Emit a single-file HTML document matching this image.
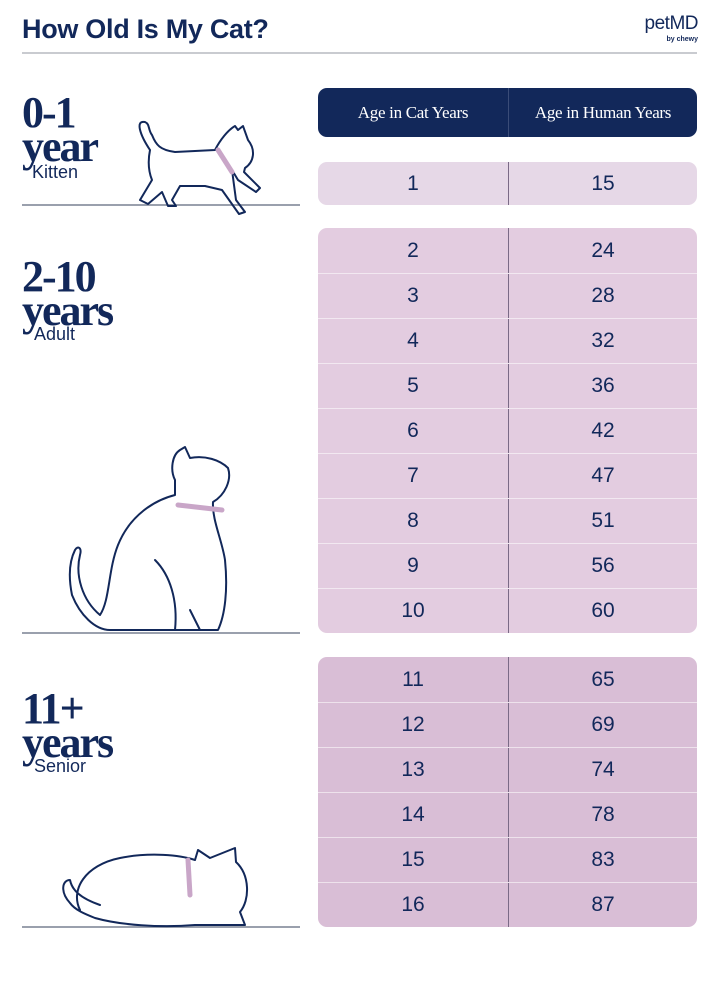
<!DOCTYPE html>
<html><head><style>
body{margin:0;width:720px;height:984px;background:#fff;position:relative;font-family:"Liberation Sans",sans-serif;color:#12285a;overflow:hidden}
.a{position:absolute}
.t{left:22px;top:14px;font-size:27px;font-weight:bold;letter-spacing:-0.3px}
.blk{position:absolute;left:318px;width:379px;border-radius:9px;overflow:hidden}
.row{box-sizing:border-box;height:45px;display:flex;border-top:1px solid rgba(255,255,255,.55);font-size:21px;line-height:44px}
.row:first-child{border-top:none;line-height:45px}
.row div{flex:0 0 190px;text-align:center}
.row div+div{flex:1;border-left:1.5px solid #7a6a86}
.big{font-family:"Liberation Serif",serif;font-weight:bold;font-size:44px;line-height:34px;letter-spacing:-2px}
.sub{font-size:18px}
.gl{position:absolute;left:22px;width:278px;height:2px;background:#9aa0ad}
</style></head><body>
<div class="a t">How Old Is My Cat?</div>
<div class="a" style="right:22px;top:13px;font-size:19px;letter-spacing:-0.5px">petMD</div>
<div class="a" style="right:22px;top:36px;font-size:7px;font-weight:bold">by chewy</div>
<div class="a" style="left:22px;top:52px;width:675px;height:2px;background:#c9cbd0"></div>

<div class="blk" style="top:88px;height:49px;background:#12285a;color:#fff;display:flex;font-family:'Liberation Serif',serif;font-size:17px;line-height:49px;letter-spacing:-0.3px">
<div style="flex:0 0 190px;text-align:center">Age in Cat Years</div><div style="flex:1;text-align:center;border-left:1px solid #3a4c78">Age in Human Years</div></div>

<div class="blk" style="top:162px;background:#e6d8e7">
<div class="row" style="height:43px;line-height:43px"><div>1</div><div>15</div></div></div>

<div class="blk" style="top:228px;background:#e3cce0">
<div class="row"><div>2</div><div>24</div></div>
<div class="row"><div>3</div><div>28</div></div>
<div class="row"><div>4</div><div>32</div></div>
<div class="row"><div>5</div><div>36</div></div>
<div class="row"><div>6</div><div>42</div></div>
<div class="row"><div>7</div><div>47</div></div>
<div class="row"><div>8</div><div>51</div></div>
<div class="row"><div>9</div><div>56</div></div>
<div class="row"><div>10</div><div>60</div></div></div>

<div class="blk" style="top:657px;background:#d9bed6">
<div class="row"><div>11</div><div>65</div></div>
<div class="row"><div>12</div><div>69</div></div>
<div class="row"><div>13</div><div>74</div></div>
<div class="row"><div>14</div><div>78</div></div>
<div class="row"><div>15</div><div>83</div></div>
<div class="row"><div>16</div><div>87</div></div></div>

<div class="a big" style="left:22px;top:96px">0-1<br>year</div>
<div class="a sub" style="left:32px;top:162px">Kitten</div>
<div class="a big" style="left:22px;top:260px">2-10<br>years</div>
<div class="a sub" style="left:34px;top:324px">Adult</div>
<div class="a big" style="left:22px;top:692px">11+<br>years</div>
<div class="a sub" style="left:34px;top:756px">Senior</div>

<div class="gl" style="top:204px"></div>
<div class="gl" style="top:632px"></div>
<div class="gl" style="top:926px"></div>

<svg class="a" style="left:0;top:0" width="720" height="984" fill="none" stroke="#12285a" stroke-width="2" stroke-linecap="round" stroke-linejoin="round">
<path d="M150 150 C140 135 135 120 145 122 C150 124 148 130 152 135 C156 145 160 150 175 152 L215 150 C220 140 228 130 235 126 L238 130 L243 126 L248 140 C256 150 254 162 245 168 L244 172 L260 188 L256 192 L238 180 L232 170 L236 200 L245 212 L239 214 L222 190 L205 186 L180 186 L172 200 L176 206 L168 206 L162 192 L148 204 L140 200 L152 180 C148 170 148 160 150 150"/>
<path d="M218 150 L232 172" stroke="#c9a6c8" stroke-width="5"/>
<path d="M175 480 C170 470 172 455 180 450 L185 447 L190 458 C205 455 220 460 228 468 C232 480 225 495 213 502 C212 520 222 540 225 560 C228 590 225 615 218 630 L110 630 C95 630 80 615 72 595 C68 575 70 560 75 550 C78 545 82 548 80 555 C75 575 82 600 100 615 C110 600 108 570 118 545 C130 515 155 500 175 495 Z"/>
<path d="M178 505 L222 510" stroke="#c9a6c8" stroke-width="5"/>
<path d="M155 560 C170 575 178 600 175 630 M190 610 L200 630"/>
<path d="M80 910 C70 890 85 865 120 858 C150 852 180 855 195 860 L198 850 L210 858 L225 852 L235 848 L236 862 C250 875 250 900 240 912 L245 925 L195 925 C160 928 120 925 95 918 C85 914 75 910 70 903 C60 892 62 880 70 880 C72 890 80 898 100 905"/>
<path d="M188 860 L190 895" stroke="#c9a6c8" stroke-width="5"/>
</svg>
</body></html>
